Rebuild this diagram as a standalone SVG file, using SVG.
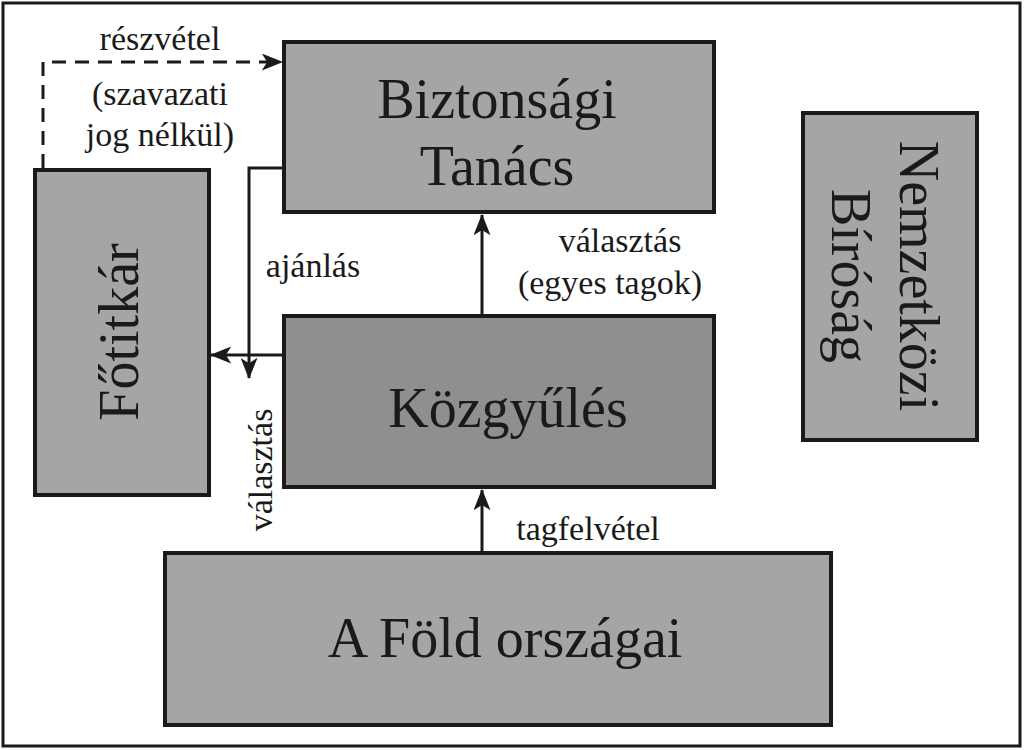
<svg xmlns="http://www.w3.org/2000/svg" width="1024" height="750" viewBox="0 0 1024 750">
<style>
.b{stroke:#1a1a1a;stroke-width:4;fill:#a5a5a5}
.t{font-family:'Liberation Serif','Times New Roman','DejaVu Serif',serif;fill:#1a1a1a;text-anchor:middle}
.big{font-size:56px}
.sm{font-size:34px}
.c{stroke:#1a1a1a;stroke-width:3;fill:none}
</style>
<defs>
<marker id="A" viewBox="0 0 20 16" refX="19" refY="8" markerWidth="22" markerHeight="17" orient="auto" markerUnits="userSpaceOnUse"><path d="M0,0 L20,8 L0,16 L5,8 z" fill="#1a1a1a"/></marker></defs>
<rect x="3" y="3" width="1017" height="743" fill="#fff" stroke="#1a1a1a" stroke-width="3"/>
<g id="bt"><rect class="b" x="284" y="42" width="430" height="170"/><text class="t big" x="497" y="118">Biztonsági</text><text class="t big" x="497" y="185">Tanács</text></g>
<g id="fotitkar"><rect class="b" x="35" y="170" width="174" height="325"/><text class="t big" transform="translate(138,332) rotate(-90)">Főtitkár</text></g>
<g id="kozgyules"><rect class="b" x="284" y="316" width="430" height="171" style="fill:#8f8f8f"/><text class="t big" x="508" y="427">Közgyűlés</text></g>
<g id="birosag"><rect class="b" x="803" y="113" width="174" height="327"/><text class="t big" transform="translate(900,276) rotate(90)">Nemzetközi</text><text class="t big" transform="translate(832,276) rotate(90)">Bíróság</text></g>
<g id="fold"><rect class="b" x="165" y="553" width="666" height="172"/><text class="t big" x="505" y="657">A Föld országai</text></g>
<g id="connectors">
<path class="c" d="M43,168 V62 H282" stroke-dasharray="14,9" marker-end="url(#A)"/>
<path class="c" d="M284,168 H249 V378" marker-end="url(#A)"/>
<path class="c" d="M284,355 H211" marker-end="url(#A)"/>
<path class="c" d="M482,316 V215" marker-end="url(#A)"/>
<path class="c" d="M482,553 V490" marker-end="url(#A)"/>
<text class="t sm" x="160" y="50">részvétel</text>
<text class="t sm" x="160" y="105">(szavazati</text>
<text class="t sm" x="160" y="146">jog nélkül)</text>
<text class="t sm" x="313" y="277">ajánlás</text>
<text class="t sm" x="620" y="252">választás</text>
<text class="t sm" x="610" y="294">(egyes tagok)</text>
<text class="t sm" x="588" y="540">tagfelvétel</text>
<text class="t sm" transform="translate(272,470) rotate(-90)">választás</text>
</g>
</svg>
